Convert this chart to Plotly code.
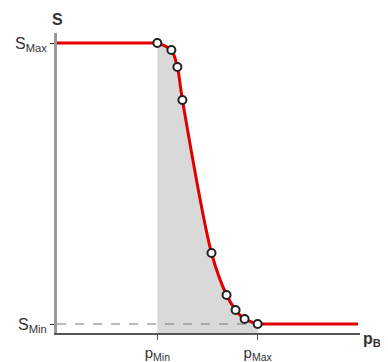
import plotly.graph_objects as go

# data (x in arbitrary units, y in arbitrary units)
p_min, p_max = 100, 200
s_min, s_max = 9, 290
x_end = 300

pts_x = [100, 114, 120, 125, 154, 169, 178, 187, 200]
pts_y = [290, 283, 266, 233, 80, 38, 23, 14, 9]

x_ticks = [p_min, p_max]
x_tick_text = ["p<sub>Min</sub>", "p<sub>Max</sub>"]
y_ticks = [s_min, s_max]
y_tick_text = ["S<sub>Min</sub>", "S<sub>Max</sub>"]

fig = go.Figure()

# shaded area under curve between p_min and p_max
fig.add_trace(go.Scatter(x=pts_x, y=pts_y, mode="lines", line=dict(width=0, shape="spline", smoothing=0.8),
                         fill="tozeroy", fillcolor="#d9d9d9", hoverinfo="skip"))
# dashed S_min line
fig.add_trace(go.Scatter(x=[0, p_max], y=[s_min, s_min], mode="lines",
                         line=dict(color="#777", width=1, dash="dash"), hoverinfo="skip"))
# red curve
fig.add_trace(go.Scatter(x=[0] + pts_x[:1], y=[s_max, s_max], mode="lines",
                         line=dict(color="#e00000", width=3)))
fig.add_trace(go.Scatter(x=pts_x, y=pts_y, mode="lines",
                         line=dict(color="#e00000", width=3, shape="spline", smoothing=0.8)))
fig.add_trace(go.Scatter(x=[pts_x[-1], x_end], y=[s_min, s_min], mode="lines",
                         line=dict(color="#e00000", width=3)))
# markers
fig.add_trace(go.Scatter(x=pts_x, y=pts_y, mode="markers",
                         marker=dict(size=8, color="white", line=dict(color="#222", width=2))))

fig.update_layout(
    width=380, height=354, showlegend=False,
    margin=dict(l=49, r=28, t=25, b=29),
    plot_bgcolor="white", paper_bgcolor="white",
    font=dict(family="Liberation Sans, Arial", size=16, color="#333"),
    xaxis=dict(range=[0, 302], showgrid=False, zeroline=False, showline=True, automargin=False,
               linecolor="#555", linewidth=2, tickvals=x_ticks, ticktext=x_tick_text,
               ticks="outside", ticklen=5, tickcolor="#555", tickwidth=1,
               tickfont=dict(size=15)),
    yaxis=dict(range=[0, 300], showgrid=False, zeroline=False, showline=True, automargin=False,
               linecolor="#999", linewidth=3, tickvals=y_ticks, ticktext=y_tick_text,
               ticks="outside", ticklen=4, tickcolor="#333", tickwidth=1),
    annotations=[
        dict(text="<b>S</b>", x=0, y=1.0, xref="x", yref="paper", yshift=24,
             showarrow=False, font=dict(size=16, color="#333")),
        dict(text="<b>p<sub>B</sub></b>", x=1.0, y=0, xref="paper", yref="y",
             xanchor="left", xshift=1, yshift=-6, showarrow=False, font=dict(size=16, color="#333")),
    ],
)

fig.write_html("out.html")
